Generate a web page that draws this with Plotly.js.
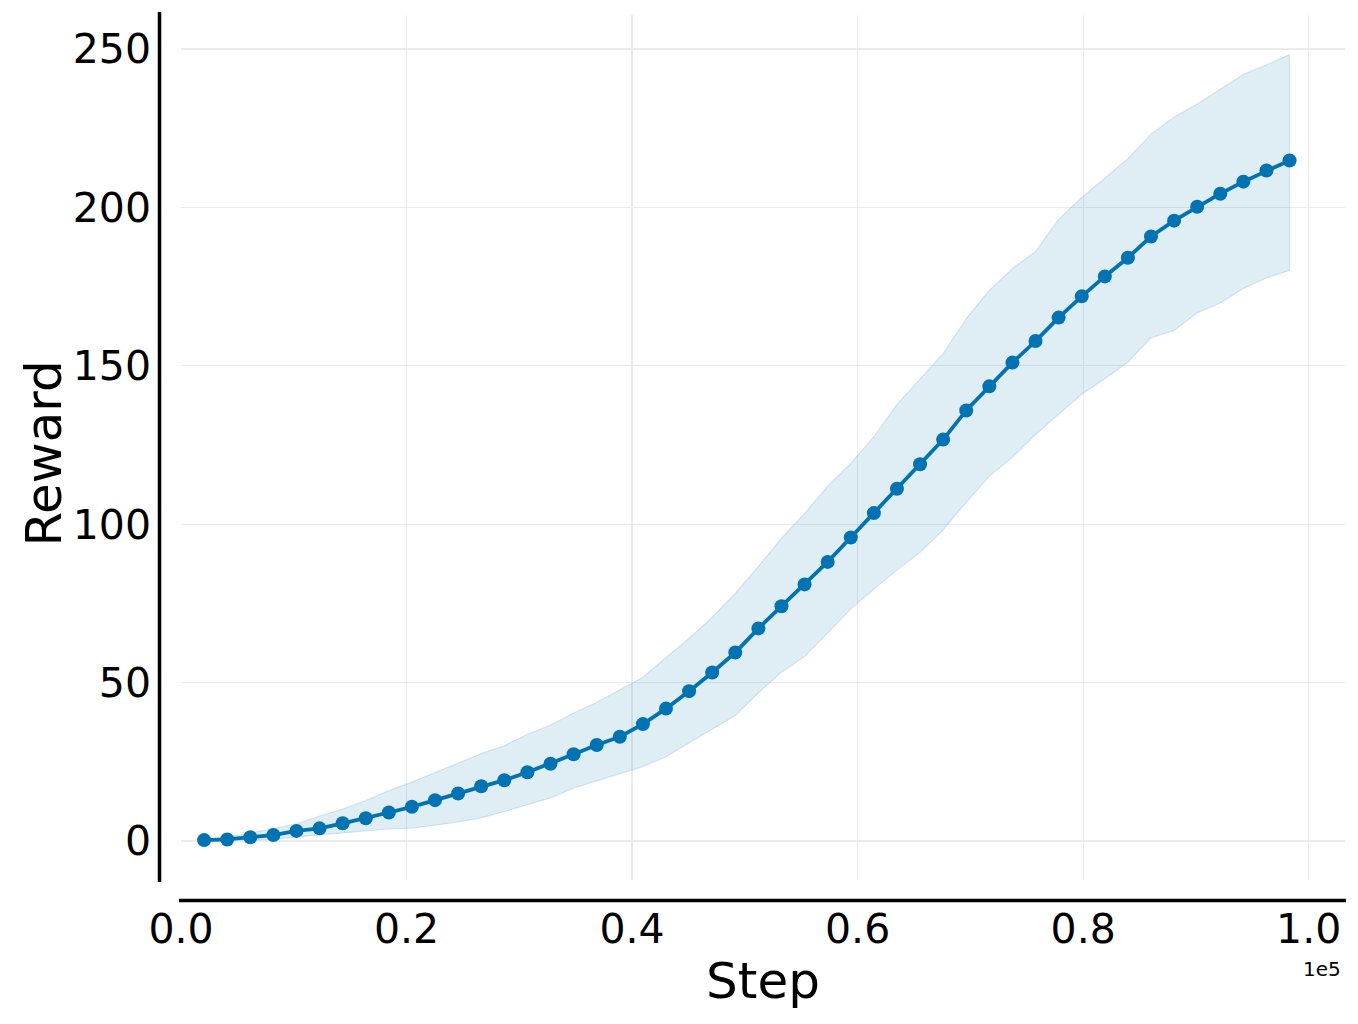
<!DOCTYPE html>
<html>
<head>
<meta charset="utf-8">
<script src="https://cdn.plot.ly/plotly-3.0.1.min.js"></script>
<style>html,body{margin:0;padding:0;background:#fff;}#chart{width:1358px;height:1024px;}</style>
</head>
<body>
<div id="chart"></div>
<script>
// Data (steps are multiples of 2048)
const stepIndex = [1,2,3,4,5,6,7,8,9,10,11,12,13,14,15,16,17,18,19,20,21,22,23,24,25,26,27,28,29,30,31,32,33,34,35,36,37,38,39,40,41,42,43,44,45,46,47,48];
const steps = stepIndex.map(k => k * 2048);
const rewardMean = [0.3,0.5,1.2,1.9,3.2,4.0,5.6,7.2,9.0,10.8,12.9,15.0,17.3,19.2,21.7,24.4,27.4,30.3,32.9,36.9,41.8,47.3,53.2,59.5,67.1,74.1,81.0,88.1,95.8,103.5,111.2,118.9,126.7,135.9,143.5,151.0,157.8,165.2,171.9,178.2,184.1,190.8,195.8,200.2,204.3,208.1,211.6,214.8];
const rewardUpper = [0.5,1.3,2.5,3.9,5.4,7.9,10.1,12.8,15.9,18.6,21.6,24.6,27.6,30.1,33.7,36.6,40.4,43.8,47.8,51.7,57.9,64.0,70.6,78.2,86.7,95.6,103.4,112.0,119.2,127.6,137.8,146.0,153.9,164.9,173.8,180.7,186.1,196.2,203.1,209.2,215.4,223.1,228.5,232.6,237.3,242.0,245.0,248.2];
const rewardLower = [0.1,0.2,0.3,0.5,1.3,1.9,2.5,3.2,3.8,4.1,5.0,6.0,7.3,9.3,11.4,13.6,16.7,19.0,21.2,23.5,26.6,31.1,35.3,39.6,46.8,53.3,58.2,65.6,73.2,79.5,85.5,91.1,98.2,106.9,115.1,121.1,128.3,134.7,141.0,145.9,151.1,158.8,161.1,166.7,169.8,174.4,177.7,180.1];
const xTickVals = [0, 20000, 40000, 60000, 80000, 100000];
const xTickText = ["0.0", "0.2", "0.4", "0.6", "0.8", "1.0"];
const yTickVals = [0, 50, 100, 150, 200, 250];

const blue = '#0173B2';

const band = {
  x: steps.concat(steps.slice().reverse()),
  y: rewardUpper.concat(rewardLower.slice().reverse()),
  type: 'scatter', mode: 'lines', fill: 'toself',
  fillcolor: 'rgba(1,115,178,0.125)',
  line: {color: 'rgba(1,115,178,0.14)', width: 1.2},
  hoverinfo: 'skip', showlegend: false
};
const mean = {
  x: steps, y: rewardMean, type: 'scatter', mode: 'lines+markers',
  line: {color: blue, width: 3.8},
  marker: {color: blue, size: 14},
  showlegend: false
};

const L = 181, R = 1345, T = 15, B = 880;
const W = R - L, H = B - T;
const px = v => (v - L) / W;
const py = v => (B - v) / H;

const font = {family: 'DejaVu Sans, sans-serif', color: '#000'};

const layout = {
  width: 1358, height: 1024,
  margin: {l: L, r: 1358 - R, t: T, b: 1024 - B, pad: 0},
  paper_bgcolor: '#fff', plot_bgcolor: '#fff',
  showlegend: false,
  font: font,
  xaxis: {
    range: [0, 103219], autorange: false,
    tickvals: xTickVals, ticktext: xTickText,
    showgrid: true, gridcolor: '#ebebeb', gridwidth: 1.3,
    zeroline: false, showline: false, ticks: '',
    ticklabelstandoff: 21,
    tickfont: {family: 'DejaVu Sans, sans-serif', size: 41, color: '#000'},
    title: {text: 'Step', font: {family: 'DejaVu Sans, sans-serif', size: 50, color: '#000'}, standoff: 10},
    automargin: false
  },
  yaxis: {
    range: [-12.3, 260.7], autorange: false,
    tickvals: yTickVals,
    showgrid: true, gridcolor: '#ebebeb', gridwidth: 1.3,
    zeroline: false, showline: false, ticks: '',
    ticklabelstandoff: 29,
    tickfont: {family: 'DejaVu Sans, sans-serif', size: 41, color: '#000'},
    title: {text: ''},
    automargin: false
  },
  shapes: [
    {type: 'line', xref: 'paper', yref: 'paper', x0: px(159.5), x1: px(159.5), y0: py(12), y1: py(882), line: {color: '#000', width: 3.5}},
    {type: 'line', xref: 'paper', yref: 'paper', x0: px(179), x1: px(1346), y0: py(900.5), y1: py(900.5), line: {color: '#000', width: 3.5}}
  ],
  annotations: [
    {text: 'Reward', xref: 'paper', yref: 'paper', x: px(43), y: py(453.5), xanchor: 'center', yanchor: 'middle', textangle: -90, showarrow: false, font: {family: 'DejaVu Sans, sans-serif', size: 50, color: '#000'}},
    {text: '1e5', xref: 'paper', yref: 'paper', x: px(1343), y: py(969), xanchor: 'right', yanchor: 'middle', showarrow: false, font: {family: 'DejaVu Sans, sans-serif', size: 20, color: '#000'}}
  ]
};

Plotly.newPlot('chart', [band, mean], layout, {displayModeBar: false, staticPlot: true});
</script>
</body>
</html>
